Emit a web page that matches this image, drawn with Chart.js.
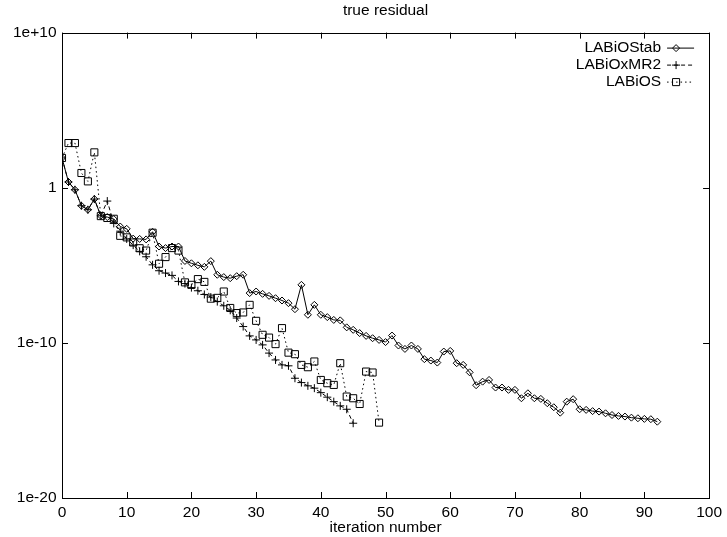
<!DOCTYPE html>
<html>
<head>
<meta charset="utf-8">
<script src="https://cdn.jsdelivr.net/npm/chart.js@4"></script>
<style>
  html, body { margin: 0; padding: 0; background: #fff; }
  #wrap { width: 727px; height: 537px; }
</style>
</head>
<body>
<div id="wrap"><canvas id="residualChart" width="727" height="537"></canvas></div>
<script>
// log10 of the true residual, one value per iteration (iteration = index)
const labiostabLog = [
  1.92, 0.37, -0.13, -1.16, -1.42, -0.73, -1.81, -1.89, -2.02, -2.5,
  -2.65, -3.28, -3.3, -3.33, -2.84, -3.79, -3.89, -3.79, -3.79, -4.72,
  -4.87, -5.0, -5.1, -4.73, -5.61, -5.76, -5.83, -5.7, -5.61, -6.79,
  -6.69, -6.84, -6.97, -7.12, -7.27, -7.44, -7.83, -6.26, -8.19, -7.55,
  -8.19, -8.34, -8.52, -8.55, -9.0, -9.16, -9.37, -9.55, -9.7, -9.81,
  -9.95, -9.53, -10.17, -10.39, -10.17, -10.39, -11.05, -11.14, -11.27, -10.56,
  -10.52, -11.31, -11.42, -11.9, -12.73, -12.5, -12.39, -12.88, -12.88, -13.03,
  -13.03, -13.57, -13.25, -13.57, -13.61, -13.89, -14.15, -14.5, -13.79, -13.63,
  -14.28, -14.32, -14.4, -14.43, -14.54, -14.65, -14.71, -14.75, -14.82, -14.86,
  -14.9, -14.92, -15.08
];
const labioxmr2Log = [
  1.92, 0.37, -0.13, -1.16, -1.42, -0.73, -1.81, -0.86, -2.3, -2.8,
  -3.3, -3.7, -4.1, -4.45, -4.97, -5.35, -5.5, -5.65, -6.04, -6.18,
  -6.44, -6.64, -6.88, -7.05, -7.34, -7.61, -7.9, -8.4, -8.95, -9.55,
  -9.81, -10.13, -10.66, -11.1, -11.42, -11.48, -12.28, -12.56, -12.77, -12.92,
  -13.21, -13.5, -13.79, -14.06, -14.28, -15.18
];
const labiosLog = [
  1.92, 2.88, 2.88, 0.95, 0.41, 2.28, -1.83, -1.95, -2.0, -3.1,
  -3.2, -3.53, -3.9, -4.05, -2.9, -4.9, -4.47, -3.89, -4.05, -6.1,
  -6.26, -5.89, -6.07, -7.15, -7.1, -6.69, -7.75, -8.08, -8.04, -7.55,
  -8.58, -9.48, -9.66, -10.08, -9.05, -10.63, -10.73, -11.42, -11.57, -11.2,
  -12.39, -12.6, -12.71, -11.31, -13.46, -13.57, -13.94, -11.85, -11.91, -15.14
];

const yTickValues = [1e-20, 1e-10, 1, 1e10];
const yTickLabels = ['1e-20', '1e-10', '1', '1e+10'];

const FONT = { family: "'Liberation Sans', Arial, Helvetica, sans-serif", size: 15.5 };

function toPoints(logs) {
  return logs.map((v, i) => ({ x: i, y: Math.pow(10, v) }));
}

// gnuplot style frame with inward ticks on all four sides
const frame = {
  id: 'frame',
  afterDraw(chart) {
    const { ctx, chartArea: a, scales } = chart;
    ctx.save();
    ctx.strokeStyle = '#000';
    ctx.lineWidth = 1;
    ctx.setLineDash([]);
    ctx.strokeRect(Math.round(a.left) + 0.5, Math.round(a.top) + 0.5,
      Math.round(a.right - a.left), Math.round(a.bottom - a.top));
    ctx.beginPath();
    scales.x.ticks.forEach(t => {
      const px = Math.round(scales.x.getPixelForValue(t.value)) + 0.5;
      ctx.moveTo(px, a.bottom); ctx.lineTo(px, a.bottom - 6);
      ctx.moveTo(px, a.top); ctx.lineTo(px, a.top + 6);
    });
    scales.y.ticks.forEach(t => {
      const py = Math.round(scales.y.getPixelForValue(t.value)) + 0.5;
      ctx.moveTo(a.left, py); ctx.lineTo(a.left + 6, py);
      ctx.moveTo(a.right, py); ctx.lineTo(a.right - 6, py);
    });
    ctx.stroke();
    ctx.restore();
  }
};

// key in the top right corner: label, then line sample with marker
const key = {
  id: 'key',
  afterDraw(chart) {
    const { ctx, chartArea: a } = chart;
    ctx.save();
    ctx.font = FONT.size + 'px ' + FONT.family;
    ctx.textAlign = 'right';
    ctx.textBaseline = 'middle';
    chart.data.datasets.forEach((ds, i) => {
      const y = a.top + 15 + i * 17;
      const x1 = a.right - 42, x2 = a.right - 15;
      ctx.fillStyle = '#000';
      ctx.fillText(ds.label, x1 - 6, y);
      ctx.strokeStyle = '#000';
      ctx.lineWidth = 1;
      ctx.setLineDash(ds.borderDash || []);
      ctx.beginPath();
      ctx.moveTo(x1, y + 0.5); ctx.lineTo(x2, y + 0.5);
      ctx.stroke();
      ctx.setLineDash([]);
      ctx.fillStyle = 'rgba(0,0,0,0)';
      Chart.helpers.drawPoint(ctx, {
        pointStyle: ds.pointStyle, radius: ds.pointRadius, rotation: 0, borderWidth: 1
      }, x1 + 9, y + 0.5);
    });
    ctx.restore();
  }
};

const ctx = document.getElementById('residualChart').getContext('2d');

new Chart(ctx, {
  type: 'line',
  data: {
    datasets: [
      {
        label: 'LABiOStab', data: toPoints(labiostabLog),
        borderColor: '#000', borderWidth: 1, backgroundColor: 'rgba(0,0,0,0)',
        pointStyle: 'rectRot', pointRadius: 3.5, pointBorderWidth: 1, fill: false
      },
      {
        label: 'LABiOxMR2', data: toPoints(labioxmr2Log),
        borderColor: '#000', borderWidth: 1, borderDash: [4, 3], backgroundColor: 'rgba(0,0,0,0)',
        pointStyle: 'cross', pointRadius: 4, pointBorderWidth: 1, fill: false
      },
      {
        label: 'LABiOS', data: toPoints(labiosLog),
        borderColor: '#000', borderWidth: 1, borderDash: [1.5, 3], backgroundColor: 'rgba(0,0,0,0)',
        pointStyle: 'rect', pointRadius: 5, pointBorderWidth: 1, fill: false
      }
    ]
  },
  options: {
    responsive: false,
    animation: false,
    events: [],
    layout: { padding: { left: 0, right: 15, top: 0, bottom: 0 } },
    plugins: {
      legend: { display: false },
      tooltip: { enabled: false },
      title: {
        display: true, text: 'true residual', color: '#000', fullSize: false,
        font: { ...FONT, weight: 'normal' }, padding: { top: 1, bottom: 13 }
      }
    },
    scales: {
      x: {
        type: 'linear', min: 0, max: 100,
        grid: { display: false, drawTicks: false, tickLength: 0 }, border: { display: false },
        ticks: { stepSize: 10, color: '#000', font: FONT, padding: 5, maxRotation: 0 },
        title: { display: true, text: 'iteration number', color: '#000', font: FONT, padding: 0 },
        afterFit(scale) { scale.height = 39; }
      },
      y: {
        type: 'logarithmic', min: 1e-20, max: 1e10,
        grid: { display: false, drawTicks: false, tickLength: 0 }, border: { display: false },
        afterBuildTicks(scale) { scale.ticks = yTickValues.map(v => ({ value: v })); },
        ticks: {
          color: '#000', font: FONT, padding: 5.5, autoSkip: false,
          callback: (v, i) => yTickLabels[i]
        },
        afterFit(scale) { scale.width = 62; }
      }
    }
  },
  plugins: [frame, key]
});
</script>
</body>
</html>
